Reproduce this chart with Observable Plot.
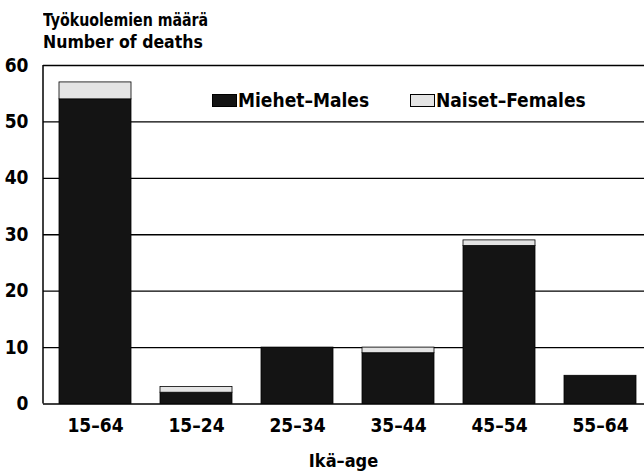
<!DOCTYPE html>
<html>
<head>
<meta charset="utf-8">
<script src="https://cdn.jsdelivr.net/npm/d3@7"></script>
<script src="https://cdn.jsdelivr.net/npm/@observablehq/plot@0.6"></script>
<style>
  html, body { margin: 0; padding: 0; background: #fff; }
  #wrap { position: relative; width: 644px; height: 473px; font-family: "Liberation Sans Narrow", "DejaVu Sans Condensed", "Roboto Condensed", sans-serif; font-weight: bold; color: #000; }
  .title { position: absolute; left: 43px; font-size: 17.5px; line-height: 17px; white-space: nowrap; transform-origin: left center; }
  .legend { position: absolute; top: 91px; font-size: 19px; line-height: 19px; white-space: nowrap; display: flex; align-items: center; }
  .sw { display: inline-block; width: 23px; height: 11px; border: 1px solid #000; margin-right: 1px; }
  .xlabel { position: absolute; top: 450px; left: 43px; width: 601px; text-align: center; font-size: 18px; }
  svg { position: absolute; left: 0; top: 0; }
</style>
</head>
<body>
<div id="wrap">
  <div class="title" style="top:12px; transform: scaleX(0.9)">Työkuolemien määrä</div>
  <div class="title" style="top:34px">Number of deaths</div>
  <div class="legend" style="left:212px"><span class="sw" style="background:#141414"></span>Miehet–Males</div>
  <div class="legend" style="left:410px"><span class="sw" style="background:#e4e4e4"></span>Naiset–Females</div>
  <div class="xlabel">Ikä–age</div>
</div>
<script>
const ages = ["15–64", "15–24", "25–34", "35–44", "45–54", "55–64"];
const males = [54, 2, 10, 9, 28, 5];
const females = [3, 1, 0, 1, 1, 0];
const seriesNames = ["Miehet–Males", "Naiset–Females"];
const seriesColors = ["#141414", "#e4e4e4"];
const yTicks = [0, 10, 20, 30, 40, 50, 60];

const rows = [];
ages.forEach((a, i) => {
  rows.push({age: a, sex: seriesNames[0], deaths: males[i]});
  rows.push({age: a, sex: seriesNames[1], deaths: females[i]});
});

const chart = Plot.plot({
  width: 644,
  height: 473,
  marginTop: 65,
  marginBottom: 69.5,
  marginLeft: 43,
  marginRight: 0,
  style: {fontFamily: '"Liberation Sans Narrow", "DejaVu Sans Condensed", sans-serif', fontWeight: "bold", fontSize: "19px", color: "#000", background: "transparent"},
  x: {domain: ages, range: [43, 651.5], paddingInner: 0.285, paddingOuter: 0.14, label: null},
  y: {domain: [0, 60], label: null},
  color: {domain: seriesNames, range: seriesColors},
  marks: [
    Plot.ruleY(yTicks, {stroke: "#000", strokeWidth: 1.3}),
    Plot.barY(rows, {x: "age", y: "deaths", fill: "sex", stroke: "#000", strokeWidth: 0.8}),
    Plot.axisY({ticks: yTicks, tickSize: 0, tickPadding: 15, label: null, fontSize: 19}),
    Plot.axisX({tickSize: 0, tickPadding: 14, label: null, fontSize: 19})
  ]
});

// left axis line
const ys = chart.scale("y");
const svg = d3.select(chart);
svg.append("line")
  .attr("x1", 43).attr("x2", 43)
  .attr("y1", ys.apply(60)).attr("y2", ys.apply(0))
  .attr("stroke", "#000").attr("stroke-width", 1.5);

document.getElementById("wrap").prepend(chart);
</script>
</body>
</html>
